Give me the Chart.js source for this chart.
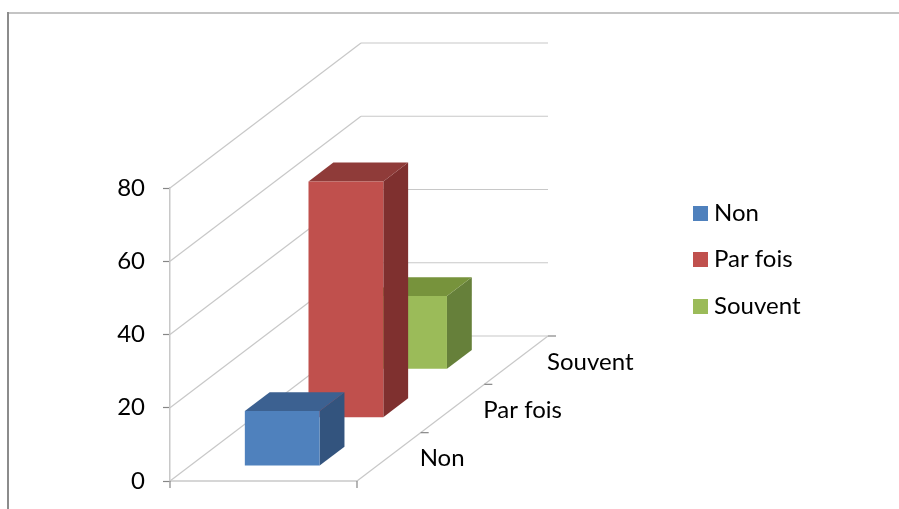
<!DOCTYPE html>
<html>
<head>
<meta charset="utf-8">
<style>
    html, body { margin: 0; padding: 0; background: #fff; overflow: hidden; }
    canvas { display: block; }
</style>
<script src="https://cdn.jsdelivr.net/npm/chart.js@4"></script>
</head>
<body>
<canvas id="chart" width="899" height="509"></canvas>
<script>
const seriesNames = ['Non', 'Par fois', 'Souvent'];
const seriesValues = [15, 64.5, 20];
const yTicks = [0, 20, 40, 60, 80];
const frontColors = ['#4f81bd', '#c0504d', '#9bbb59'];
const topColors = ['#3c6191', '#8f3b39', '#77933c'];
const sideColors = ['#33547e', '#7f302f', '#66803a'];

const FONT = 'Lato, Carlito, Calibri, sans-serif';
const DEPTH_X = 191;
const DEPTH_Y = 145;
const BAR_SHIFT = -1;

function face(ctx, points, color) {
    ctx.fillStyle = color;
    ctx.beginPath();
    points.forEach((p, i) => i ? ctx.lineTo(p[0], p[1]) : ctx.moveTo(p[0], p[1]));
    ctx.closePath();
    ctx.fill();
}

function segment(ctx, x1, y1, x2, y2, color, width) {
    ctx.strokeStyle = color;
    ctx.lineWidth = width;
    ctx.beginPath();
    ctx.moveTo(x1, y1);
    ctx.lineTo(x2, y2);
    ctx.stroke();
}

// legend swatch as a small canvas, so the text can sit closer than the default gap
function swatch(color) {
    const c = document.createElement('canvas');
    c.width = 15;
    c.height = 15;
    const g = c.getContext('2d');
    g.fillStyle = color;
    g.fillRect(0, 0, 15, 15);
    return c;
}

const depthPlugin = {
    id: 'depth',
    beforeDraw(chart) {
        const ctx = chart.ctx;
        ctx.save();
        ctx.fillStyle = '#fff';
        ctx.fillRect(0, 0, chart.width, chart.height);
        // page frame around the chart
        segment(ctx, 8, 13, chart.width, 13, '#b0b0b0', 1.5);
        segment(ctx, 8, 12, 8, chart.height, '#8c8c8c', 2);
        ctx.restore();
    },
    afterLayout(chart) {
        // legend sits in the empty right part of the page
        const legend = chart.legend;
        const pad = chart.options.plugins.legend.labels.padding;
        legend.left = 699 - pad;
        legend.right = legend.left + legend.width;
        legend.top = 201 - pad;
        legend.bottom = legend.top + legend.height;
    },
    beforeDatasetsDraw(chart) {
        const ctx = chart.ctx;
        const y = chart.scales.y;
        const { left, right } = chart.chartArea;
        const wall = '#c8c8c8';
        const n = seriesNames.length;
        ctx.save();

        // walls and floor
        yTicks.forEach(t => {
            const py = y.getPixelForValue(t);
            segment(ctx, left, py, left + DEPTH_X, py - DEPTH_Y, wall, 1.2);
            segment(ctx, left + DEPTH_X, py - DEPTH_Y, right + DEPTH_X, py - DEPTH_Y, wall, 1.2);
        });
        const floor = y.getPixelForValue(0);
        segment(ctx, left, floor, right, floor, wall, 1.5);
        segment(ctx, right, floor, right + DEPTH_X, floor - DEPTH_Y, wall, 1.2);
        segment(ctx, left, floor, left, floor + 7, '#868686', 1.2);
        segment(ctx, right, floor, right, floor + 7, '#868686', 1.2);

        // depth axis ticks and labels
        ctx.font = '24px ' + FONT;
        ctx.textAlign = 'left';
        ctx.textBaseline = 'middle';
        seriesNames.forEach((name, i) => {
            const f = (i + 1) / n;
            const tx = right + DEPTH_X * f;
            const ty = floor - DEPTH_Y * f;
            segment(ctx, tx, ty, tx + 8, ty, '#868686', 1.2);
            ctx.fillStyle = '#000';
            ctx.fillText(name, tx - 1, ty + 26);
        });

        // cuboids, back to front
        for (let i = n - 1; i >= 0; i--) {
            const bar = chart.getDatasetMeta(i).data[0];
            const near = (i + 0.31) / n;
            const far = (i + 0.70) / n;
            const x0 = bar.x - bar.width / 2 + DEPTH_X * near + BAR_SHIFT;
            const x1 = bar.x + bar.width / 2 + DEPTH_X * near + BAR_SHIFT;
            const yTop = bar.y - DEPTH_Y * near;
            const yBase = bar.base - DEPTH_Y * near;
            const ox = DEPTH_X * (far - near);
            const oy = DEPTH_Y * (far - near);
            face(ctx, [[x1, yTop], [x1 + ox, yTop - oy], [x1 + ox, yBase - oy], [x1, yBase]], sideColors[i]);
            face(ctx, [[x0, yTop], [x0 + ox, yTop - oy], [x1 + ox, yTop - oy], [x1, yTop]], topColors[i]);
            face(ctx, [[x0, yTop], [x1, yTop], [x1, yBase], [x0, yBase]], frontColors[i]);
        }
        ctx.restore();
        return false;
    }
};

new Chart(document.getElementById('chart'), {
    type: 'bar',
    data: {
        labels: [''],
        datasets: seriesNames.map((name, i) => ({
            label: name,
            data: [seriesValues[i]],
            backgroundColor: frontColors[i],
            grouped: false,
            barPercentage: 0.5,
            categoryPercentage: 0.8
        }))
    },
    options: {
        responsive: false,
        animation: false,
        layout: { padding: { left: 0, right: 542, top: 188, bottom: 28 } },
        scales: {
            x: { display: false },
            y: {
                min: 0,
                max: 80,
                afterFit(scale) {
                    scale.width = 170;
                    scale.paddingTop = 0;
                    scale.paddingBottom = 0;
                },
                afterBuildTicks(scale) { scale.ticks = yTicks.map(v => ({ value: v })); },
                border: { display: true, color: '#c8c8c8', width: 1.5 },
                grid: { drawOnChartArea: false, tickLength: 7, tickColor: '#868686', tickWidth: 1.2 },
                ticks: { color: '#000', padding: 18, font: { family: FONT, size: 24 } }
            }
        },
        plugins: {
            tooltip: { enabled: false },
            legend: {
                position: 'chartArea',
                align: 'start',
                labels: {
                    usePointStyle: true,
                    pointStyleWidth: 3,
                    boxHeight: 15,
                    padding: 22.5,
                    color: '#000',
                    font: { family: FONT, size: 24 },
                    generateLabels(chart) {
                        return Chart.defaults.plugins.legend.labels.generateLabels(chart)
                            .map((item, i) => Object.assign(item, { pointStyle: swatch(frontColors[i]) }));
                    }
                }
            }
        }
    },
    plugins: [depthPlugin]
});
</script>
</body>
</html>
